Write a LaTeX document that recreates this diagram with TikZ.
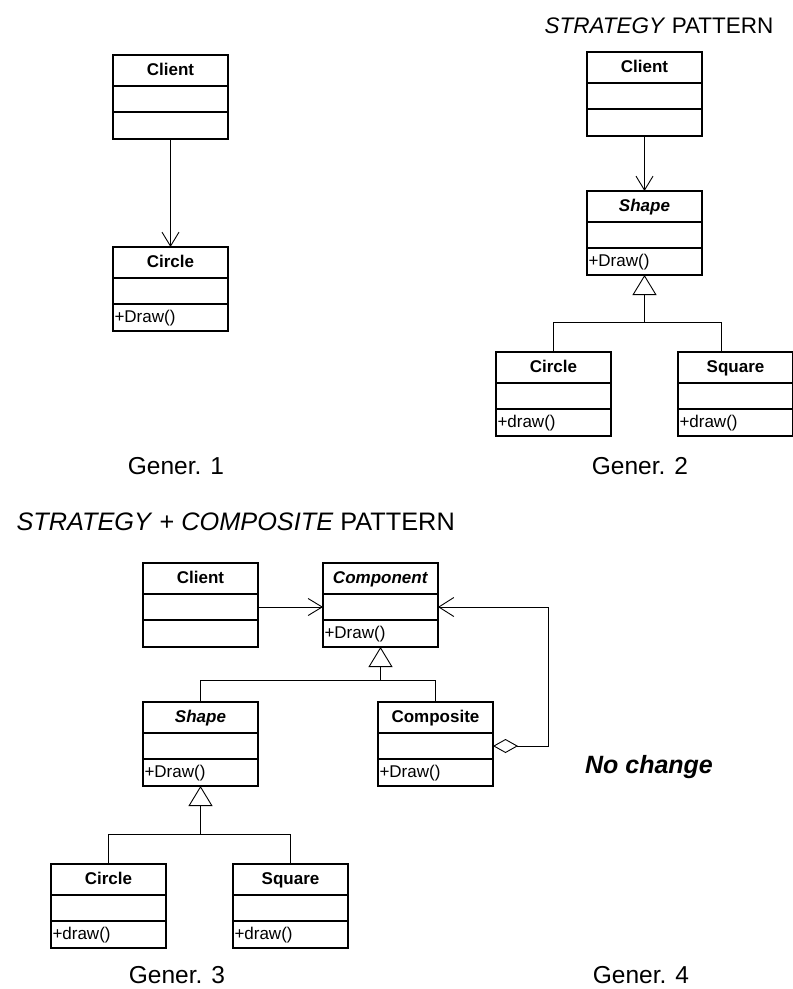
\documentclass[tikz,border=0pt]{standalone}
\usepackage{fontspec}
\setmainfont{Liberation Sans}
\usetikzlibrary{arrows.meta,positioning}

\newcommand{\clsfont}{\fontsize{17}{20}\selectfont}
\newcommand{\genfont}{\fontsize{24.5}{28}\selectfont}

\tikzset{
  cls/.style={draw, line width=1.2pt, outer sep=0pt, minimum width=115pt, minimum height=31pt, inner sep=0pt, text height=12.5pt, text depth=3.5pt, font=\clsfont\bfseries},
  attr/.style={draw, line width=1.2pt, outer sep=0pt, minimum width=115pt, minimum height=26pt, inner sep=0pt},
  meth/.style={draw, line width=1.2pt, outer sep=0pt, text width=112pt, minimum height=27pt, inner xsep=1.5pt, inner ysep=0pt, text height=12.5pt, text depth=3.5pt, align=left, font=\clsfont},
  assoc/.style={line width=0.9pt, -{Straight Barb[length=14pt,width=17pt]}},
  inherit/.style={line width=0.9pt, -{Triangle[open,length=20pt,width=24pt]}},
  aggr/.style={line width=0.9pt, {Diamond[open,length=25pt,width=14pt]}-{Straight Barb[length=15pt,width=19pt]}},
  bus/.style={line width=0.9pt},
}

\begin{document}
\begin{tikzpicture}[x=1pt,y=-1pt]
    \useasboundingbox (0,0) rectangle (793,989);

    % Gener. 1
    \node[cls, anchor=north west] (cl1) at (113,55) {Client};
    \node[attr, below=0pt of cl1] (cl1-a) {};
    \node[meth, below=0pt of cl1-a] (cl1-m) {};

    \node[cls, anchor=north west] (ci1) at (113,247) {Circle};
    \node[attr, below=0pt of ci1] (ci1-a) {};
    \node[meth, below=0pt of ci1-a] (ci1-m) {+Draw()};

    \draw[assoc] (cl1-m.south) -- (ci1.north);
    \node[font=\genfont, anchor=base] (gen1) at (176,474) {Gener. 1};


    % Gener. 2 : strategy
    \node[font=\fontsize{22.5}{26}\selectfont, anchor=base] (title2) at (659,33) {\textit{STRATEGY} PATTERN};

    \node[cls, anchor=north west] (cl2) at (587,52) {Client};
    \node[attr, below=0pt of cl2] (cl2-a) {};
    \node[meth, below=0pt of cl2-a] (cl2-m) {};

    \node[cls, anchor=north west] (sh2) at (587,191) {\textit{Shape}};
    \node[attr, below=0pt of sh2] (sh2-a) {};
    \node[meth, below=0pt of sh2-a] (sh2-m) {+Draw()};

    \node[cls, anchor=north west] (ci2) at (496,352) {Circle};
    \node[attr, below=0pt of ci2] (ci2-a) {};
    \node[meth, below=0pt of ci2-a] (ci2-m) {+draw()};

    \node[cls, anchor=north west] (sq2) at (678,352) {Square};
    \node[attr, below=0pt of sq2] (sq2-a) {};
    \node[meth, below=0pt of sq2-a] (sq2-m) {+draw()};

    \draw[assoc] (cl2-m.south) -- (sh2.north);
    \coordinate (bus2) at (sh2-m.south |- 0,322);
    \draw[inherit] (bus2) -- (sh2-m.south);
    \draw[bus] (ci2.north) |- ([xshift=-14pt]sq2.north |- bus2) -- ([xshift=-14pt]sq2.north);
    \node[font=\genfont, anchor=base] (gen2) at (640,474) {Gener. 2};


    % Gener. 3 : strategy + composite
    \node[font=\fontsize{25.3}{29}\selectfont, anchor=base west] (title3) at (13,530) {\textit{STRATEGY} + \textit{COMPOSITE} PATTERN};

    \node[cls, anchor=north west] (cl3) at (143,563) {Client};
    \node[attr, below=0pt of cl3] (cl3-a) {};
    \node[meth, below=0pt of cl3-a] (cl3-m) {};

    \node[cls, anchor=north west] (co3) at (323,563) {\textit{Component}};
    \node[attr, below=0pt of co3] (co3-a) {};
    \node[meth, below=0pt of co3-a] (co3-m) {+Draw()};

    \node[cls, anchor=north west] (sh3) at (143,702) {\textit{Shape}};
    \node[attr, below=0pt of sh3] (sh3-a) {};
    \node[meth, below=0pt of sh3-a] (sh3-m) {+Draw()};

    \node[cls, anchor=north west] (cp3) at (378,702) {Composite};
    \node[attr, below=0pt of cp3] (cp3-a) {};
    \node[meth, below=0pt of cp3-a] (cp3-m) {+Draw()};

    \node[cls, anchor=north west] (ci3) at (51,864) {Circle};
    \node[attr, below=0pt of ci3] (ci3-a) {};
    \node[meth, below=0pt of ci3-a] (ci3-m) {+draw()};

    \node[cls, anchor=north west] (sq3) at (233,864) {Square};
    \node[attr, below=0pt of sq3] (sq3-a) {};
    \node[meth, below=0pt of sq3-a] (sq3-m) {+draw()};

    \draw[assoc] (cl3-a.east) -- (co3-a.west);
    \draw[aggr] (cp3-a.east) -- ++(55,0) |- (co3-a.east);

    \coordinate (bus3) at (co3-m.south |- 0,680);
    \draw[inherit] (bus3) -- (co3-m.south);
    \draw[bus] (sh3.north) |- (cp3.north |- bus3) -- (cp3.north);

    \coordinate (bus4) at (sh3-m.south |- 0,834);
    \draw[inherit] (bus4) -- (sh3-m.south);
    \draw[bus] (ci3.north) |- (sq3.north |- bus4) -- (sq3.north);

    \node[font=\genfont, anchor=base] (gen3) at (177,983) {Gener. 3};


    % Gener. 4
    \node[font=\fontsize{25}{29}\selectfont\bfseries\itshape, anchor=base] (nochange) at (649,773) {No change};
    \node[font=\genfont, anchor=base] (gen4) at (641,983) {Gener. 4};

\end{tikzpicture}
\end{document}
